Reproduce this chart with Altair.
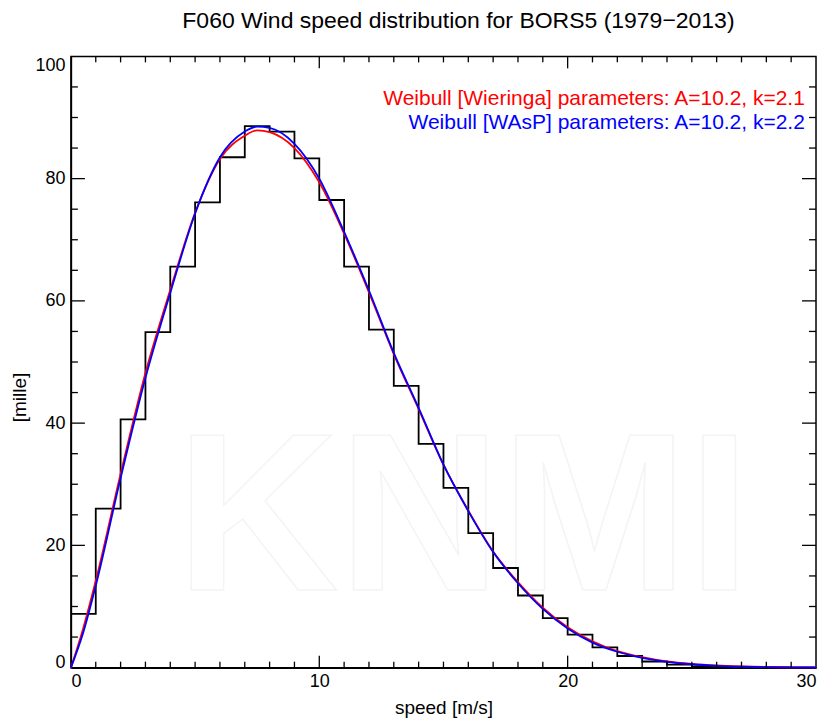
import altair as alt
import pandas as pd

# ---------------- data ----------------
bin_edges = list(range(0, 31))  # 1 m/s bins, 0..30
hist_mille = [8.8, 26.0, 40.6, 54.9, 65.6, 76.1, 83.5, 88.6, 87.7, 83.3,
              76.5, 65.6, 55.3, 46.1, 36.6, 29.4, 22.0, 16.3, 11.8, 8.1,
              5.4, 3.3, 1.9, 1.0, 0.5, 0.2, 0.1, 0.05, 0.02, 0.01]

curve_speed = [0, 0.5, 1, 2, 3, 4, 5, 6, 7, 7.5, 8, 9, 10, 11, 12, 13, 14, 15,
               16, 17, 18, 19, 20, 21, 22, 23, 24, 25, 26, 27, 28, 29, 30]
wieringa_mille = [0, 6.5, 14.2, 31.7, 48.2, 61.8, 74.4, 83.2, 87.0, 87.9, 87.6,
                  85.0, 79.4, 71.0, 61.4, 51.3, 42.3, 33.2, 25.7, 19.0, 14.0,
                  9.8, 6.6, 4.3, 2.7, 1.7, 1.0, 0.6, 0.35, 0.2, 0.1, 0.05, 0.03]
wasp_mille = [0, 5.8, 13.4, 31.0, 47.4, 61.3, 74.3, 83.5, 87.7, 88.5, 88.3,
              85.7, 80.0, 71.3, 61.7, 51.5, 42.5, 33.2, 25.6, 18.9, 13.8,
              9.6, 6.4, 4.1, 2.6, 1.6, 0.95, 0.55, 0.3, 0.16, 0.08, 0.04, 0.02]

legend_text = ["Weibull [Wieringa] parameters: A=10.2, k=2.1",
               "Weibull [WAsP] parameters: A=10.2, k=2.2"]
legend_color = ["#ff0000", "#0000ff"]
legend_x = [29.55, 29.55]
legend_y = [92.0, 88.1]

x_major_ticks = [10, 20]
x_minor_ticks = [v for v in range(1, 30) if v % 10 != 0]
y_major_ticks = [20, 40, 60, 80]
y_minor_ticks = [v for v in range(5, 100, 5) if v % 20 != 0]

# ---------------- chart ----------------
W, H = 746, 612
FONT = "Liberation Sans"

xs = alt.Scale(domain=[0, 30], nice=False, zero=False)
ys = alt.Scale(domain=[0, 100], nice=False, zero=False)

hist_df = pd.DataFrame({"speed": bin_edges, "mille": hist_mille + [hist_mille[-1]]})
red_df = pd.DataFrame({"speed": curve_speed, "mille": wieringa_mille})
blue_df = pd.DataFrame({"speed": curve_speed, "mille": wasp_mille})
leg_df = pd.DataFrame({"speed": legend_x, "mille": legend_y,
                       "label": legend_text, "col": legend_color})

x_axis = alt.Axis(values=[0, 10, 20, 30], ticks=False, grid=False, format="d",
                  domainColor="black", domainWidth=1.5,
                  labelFont=FONT, labelFontSize=18, labelColor="black", labelPadding=5,
                  title="speed [m/s]", titleFont=FONT, titleFontSize=19,
                  titleFontWeight="normal", titleColor="black", titlePadding=8)
y_axis = alt.Axis(values=[0, 20, 40, 60, 80, 100], ticks=False, grid=False, format="d",
                  labelBaseline={"condition": [{"test": "datum.value == 0", "value": "alphabetic"},
                                               {"test": "datum.value == 100", "value": "top"}],
                                 "value": "middle"},
                  domainColor="black", domainWidth=1.5,
                  labelFont=FONT, labelFontSize=18, labelColor="black", labelPadding=6,
                  title="[mille]", titleFont=FONT, titleFontSize=19, titleY=341,
                  titleFontWeight="normal", titleColor="black", titlePadding=5)


def X():
    return alt.X("speed:Q", scale=xs, axis=x_axis)


def Y():
    return alt.Y("mille:Q", scale=ys, axis=y_axis)


watermark = alt.Chart(pd.DataFrame({"speed": [15.8], "mille": [12.7], "t": ["KNMI"]})).mark_text(
    font=FONT, fontSize=225, fontWeight="bold", fill="white", stroke="#f4f4f4",
    strokeWidth=1.5, align="center", baseline="alphabetic"
).encode(x=X(), y=Y(), text="t:N")

hist = alt.Chart(hist_df).mark_line(interpolate="step-after", color="black",
                                    strokeWidth=1.8).encode(x=X(), y=Y())
red = alt.Chart(red_df).mark_line(interpolate="monotone", color="#ff0000",
                                  strokeWidth=1.8).encode(x=X(), y=Y())
blue = alt.Chart(blue_df).mark_line(interpolate="monotone", color="#0000ff",
                                    strokeWidth=1.8).encode(x=X(), y=Y())


def xticks(vals, y0, y1):
    return alt.Chart(pd.DataFrame({"speed": vals})).mark_rule(color="black", strokeWidth=1.3).encode(
        x=X(), y=alt.value(y0), y2=alt.value(y1))


def yticks(vals, x0, x1):
    return alt.Chart(pd.DataFrame({"mille": vals})).mark_rule(color="black", strokeWidth=1.3).encode(
        y=Y(), x=alt.value(x0), x2=alt.value(x1))


ticks = [
    xticks(x_minor_ticks, H, H - 6), xticks(x_major_ticks, H, H - 12),
    xticks(x_minor_ticks, 0, 6), xticks(x_major_ticks, 0, 12),
    yticks(y_minor_ticks, 0, 7), yticks(y_major_ticks, 0, 14),
    yticks(y_minor_ticks, W, W - 7), yticks(y_major_ticks, W, W - 14),
]

legend = alt.Chart(leg_df).mark_text(align="right", baseline="alphabetic", font=FONT,
                                     fontSize=21).encode(
    x=X(), y=Y(), text="label:N", color=alt.Color("col:N", scale=None))

chart = alt.layer(watermark, hist, red, blue, *ticks, legend).properties(
    width=W, height=H,
    title=alt.TitleParams("F060 Wind speed distribution for BORS5 (1979\u22122013)",
                          font=FONT, fontSize=23, fontWeight="normal", color="black",
                          anchor="middle", baseline="alphabetic", offset=5, dx=15),
    autosize=alt.AutoSizeParams(type="none"),
    padding={"left": 63, "top": 48, "right": 6, "bottom": 52},
    background="white",
).configure_view(stroke="black", strokeWidth=1.5)

chart.save("out.html", embed_options={"renderer": "svg", "actions": False})
